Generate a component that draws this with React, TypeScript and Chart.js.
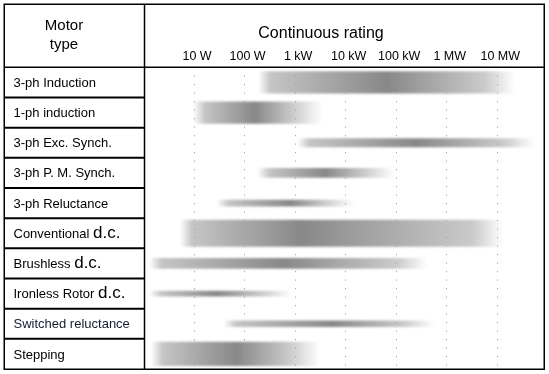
import { useEffect, useRef } from 'react';
import { Chart, registerables } from 'chart.js';

Chart.register(...registerables);

// ---- data (ratings in watts) ----
const motorTypes = [
  '3-ph Induction',
  '1-ph induction',
  '3-ph Exc. Synch.',
  '3-ph P. M. Synch.',
  '3-ph Reluctance',
  'Conventional d.c.',
  'Brushless d.c.',
  'Ironless Rotor d.c.',
  'Switched reluctance',
  'Stepping',
];
const ratingMin = [187, 9.6, 1100, 180, 28, 5.3, 1.3, 1.3, 39, 1.4];
const ratingMax = [2.2e7, 3500, 5.4e7, 9.1e4, 1.5e4, 1.3e7, 4.1e5, 870, 5.6e5, 3100];
const ratingTypical = [6.5e4, 160, 2.5e5, 3900, 810, 1300, 600, 28, 5500, 70];
const tickValues = [10, 100, 1e3, 1e4, 1e5, 1e6, 1e7];
const tickLabels = ['10 W', '100 W', '1 kW', '10 kW', '100 kW', '1 MW', '10 MW'];
const axisMin = 1.07;
const axisMax = 8.4e7;

// ---- styles ----
const bandThickness = [21.5, 21.5, 8.5, 9, 6, 26.5, 10, 5, 6, 23.5];
const FONT = '"Liberation Sans", Arial, Helvetica, sans-serif';
const W = 549;
const H = 374;

function shade(a: number) {
  return `rgba(110,110,110,${a.toFixed(3)})`;
}

function makeGradient(context: any, i: number) {
  const chart = context.chart;
  const xs = chart.scales && chart.scales.x;
  if (!chart.chartArea || !xs) return shade(0.5);
  const x0 = xs.getPixelForValue(ratingMin[i]);
  const x1 = xs.getPixelForValue(ratingMax[i]);
  const xp = xs.getPixelForValue(ratingTypical[i]);
  const w = Math.max(1, x1 - x0);
  const clamp = (v: number) => Math.min(1, Math.max(0, v));
  const fi = clamp(12 / w);
  const fo = clamp(1 - 30 / w);
  const pk = Math.min(fo, Math.max(fi, clamp((xp - x0) / w)));
  const g = chart.ctx.createLinearGradient(x0, 0, x1, 0);
  g.addColorStop(0, shade(0));
  g.addColorStop(fi, shade(0.4));
  g.addColorStop(pk, shade(0.82));
  g.addColorStop(fo, shade(0.36));
  g.addColorStop(1, shade(0));
  return g;
}

const softBars = {
  id: 'softBars',
  beforeDatasetsDraw(chart: any) {
    chart.ctx.save();
    chart.ctx.filter = 'blur(1px)';
  },
  afterDatasetsDraw(chart: any) {
    chart.ctx.restore();
  },
};

const tableFrame = {
  id: 'tableFrame',
  afterDraw(chart: any) {
    const { ctx, chartArea: ca } = chart;
    const ys = chart.scales.y;
    const left = 4;
    const top = 4;
    ctx.save();
    ctx.strokeStyle = '#000';
    // outer frame
    ctx.lineWidth = 1.5;
    ctx.strokeRect(left + 0.25, top + 0.25, ca.right - left, ca.bottom - top);
    // header line
    ctx.lineWidth = 1.5;
    ctx.beginPath();
    ctx.moveTo(left, ca.top);
    ctx.lineTo(ca.right, ca.top);
    ctx.stroke();
    // column divider
    ctx.beginPath();
    ctx.moveTo(ca.left - 0.5, top);
    ctx.lineTo(ca.left - 0.5, ca.bottom);
    ctx.stroke();
    // row separators in the label column
    ctx.lineWidth = 2;
    for (let i = 1; i < motorTypes.length; i++) {
      const y = (ys.getPixelForValue(i - 1) + ys.getPixelForValue(i)) / 2;
      ctx.beginPath();
      ctx.moveTo(left, y);
      ctx.lineTo(ca.left - 0.5, y);
      ctx.stroke();
    }
    // header texts
    ctx.fillStyle = '#000';
    ctx.textAlign = 'center';
    ctx.textBaseline = 'middle';
    ctx.font = `15px ${FONT}`;
    ctx.fillText('Motor', 64, 26);
    ctx.fillText('type', 64, 44.5);
    ctx.font = `16px ${FONT}`;
    ctx.fillText('Continuous rating', 321, 34);
    // row labels (with larger "d.c.")
    ctx.textAlign = 'left';
    ctx.textBaseline = 'alphabetic';
    motorTypes.forEach((name, i) => {
      const yb = ys.getPixelForValue(i) + 4.6;
      const m = name.match(/^(.*\s)(d\.c\.)$/);
      ctx.fillStyle = name === 'Switched reluctance' ? '#141c33' : '#000';
      if (m) {
        ctx.font = `13px ${FONT}`;
        ctx.fillText(m[1], 13.5, yb);
        const w1 = ctx.measureText(m[1]).width;
        ctx.font = `17px ${FONT}`;
        ctx.fillText(m[2], 13.5 + w1, yb);
      } else {
        ctx.font = `13px ${FONT}`;
        ctx.fillText(name, 13.5, yb);
      }
    });
    ctx.restore();
  },
};

export default function App() {
  const ref = useRef<HTMLCanvasElement | null>(null);

  useEffect(() => {
    if (!ref.current) return;
    Chart.defaults.font.family = FONT;
    const datasets = motorTypes.map((name, i) => ({
      label: name,
      data: motorTypes.map((_, j) => (j === i ? [ratingMin[i], ratingMax[i]] : null)),
      barThickness: bandThickness[i],
      grouped: false,
      borderWidth: 0,
      borderSkipped: false,
      backgroundColor: (c: any) => makeGradient(c, i),
    }));
    const chart = new Chart(ref.current, {
      type: 'bar',
      data: { labels: motorTypes, datasets: datasets as any },
      options: {
        animation: false,
        responsive: false,
        indexAxis: 'y',
        layout: { padding: { left: 145, right: 5, top: 4, bottom: 5 } },
        plugins: {
          legend: { display: false },
          tooltip: { enabled: false },
          title: { display: false },
        },
        scales: {
          x: {
            type: 'logarithmic',
            position: 'top',
            min: axisMin,
            max: axisMax,
            afterBuildTicks: (scale: any) => {
              scale.ticks = tickValues.map((v) => ({ value: v }));
            },
            afterFit: (scale: any) => {
              scale.height = 63.3;
            },
            ticks: {
              autoSkip: false,
              maxRotation: 0,
              padding: 3,
              labelOffset: 3,
              color: '#000',
              font: { size: 12.5, family: FONT },
              callback: (_v: any, idx: number) => tickLabels[idx],
            },
            grid: {
              drawTicks: false,
              color: 'rgba(160,160,160,0.95)',
              lineWidth: 1,
              z: 1,
            },
            border: { display: false, dash: [1.2, 7.3] },
          },
          y: {
            type: 'category',
            display: false,
          },
        },
      },
      plugins: [softBars, tableFrame],
    } as any);
    return () => chart.destroy();
  }, []);

  return (
    <div style={{ position: 'absolute', left: 0, top: 0, width: W, height: H, background: '#fff' }}>
      <canvas ref={ref} width={W} height={H} style={{ display: 'block', width: W, height: H }} />
    </div>
  );
}
